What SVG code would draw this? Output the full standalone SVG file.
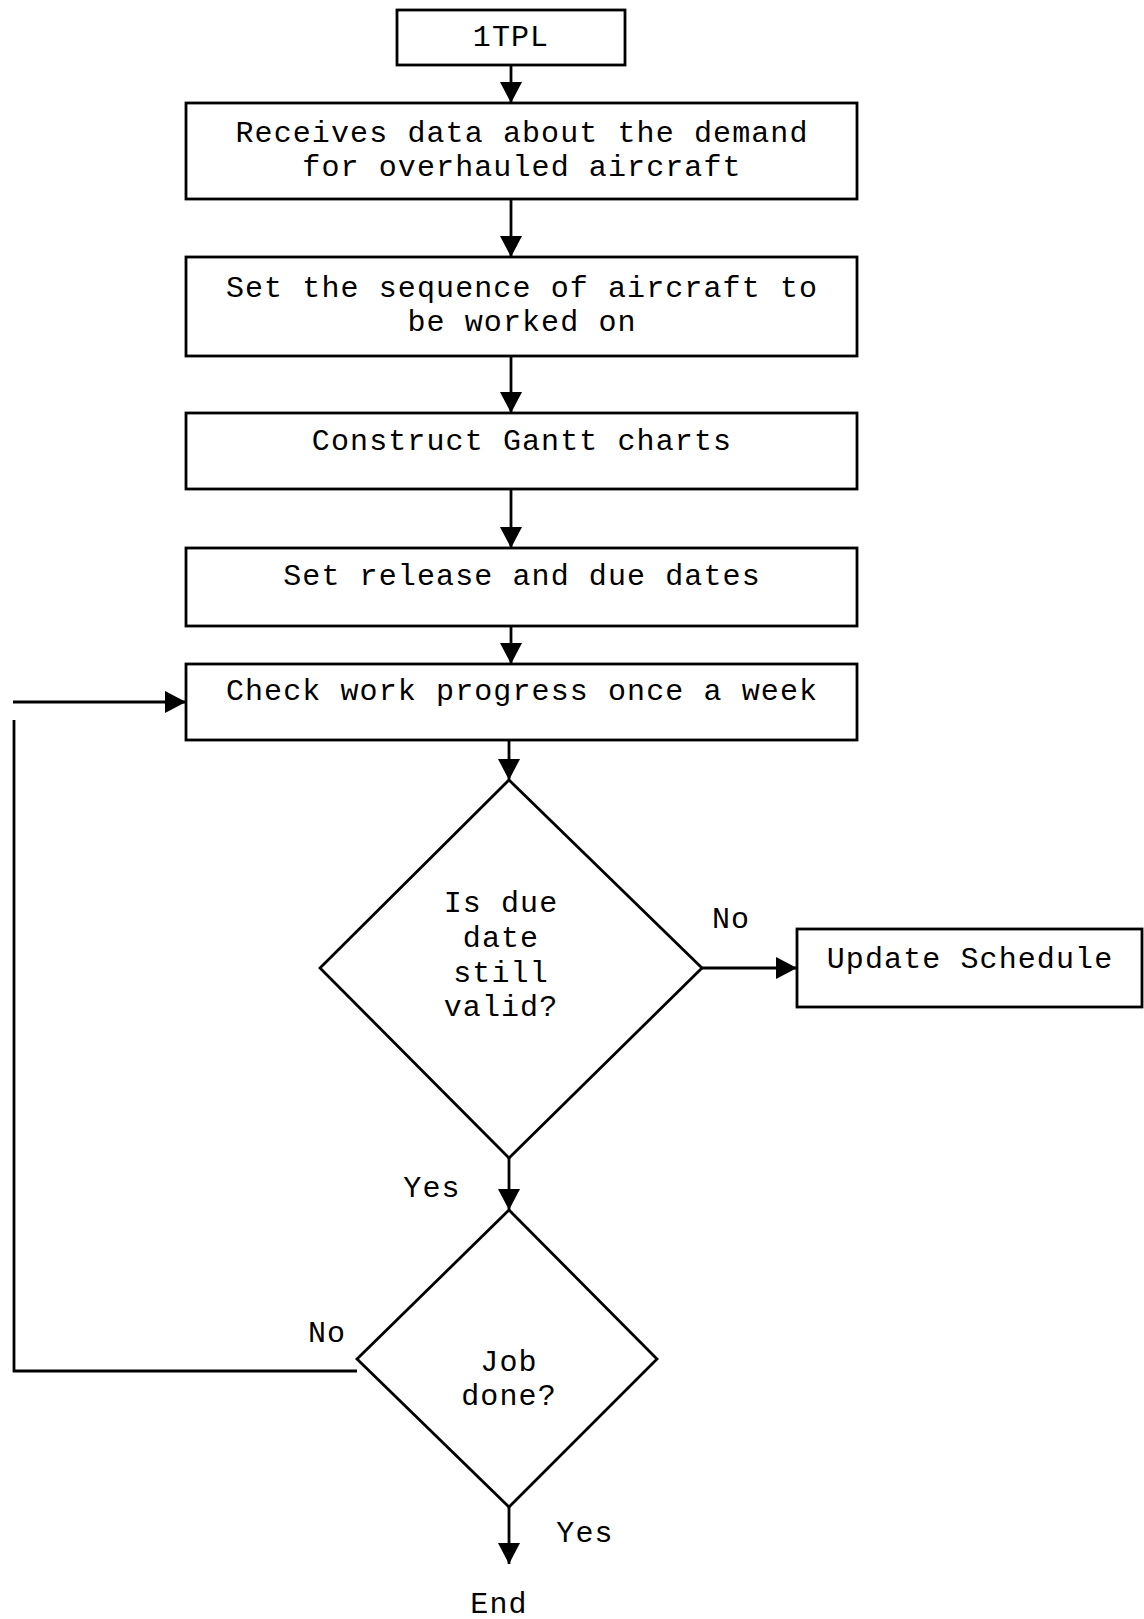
<svg xmlns="http://www.w3.org/2000/svg" width="1144" height="1619" viewBox="0 0 1144 1619">
<style>
  .box{fill:#fff;stroke:#000;stroke-width:2.8}
  .dia{fill:#fff;stroke:#000;stroke-width:2.8}
  .t{font-family:"Liberation Mono","Courier New",monospace;font-size:30px;letter-spacing:1.1px;fill:#000;text-anchor:middle}
  .c{fill:none;stroke:#000;stroke-width:2.8}
</style>
<defs>
  <marker id="ah" markerUnits="userSpaceOnUse" markerWidth="22" markerHeight="22" refX="21" refY="11" orient="auto">
    <path d="M0,0 L21,11 L0,22 Z" fill="#000"/>
  </marker>
</defs>
<rect width="1144" height="1619" fill="#fff"/>
<g id="connectors">
  <line class="c" x1="511" y1="65" x2="511" y2="103" marker-end="url(#ah)"/>
  <line class="c" x1="511" y1="199" x2="511" y2="257" marker-end="url(#ah)"/>
  <line class="c" x1="511" y1="356" x2="511" y2="413" marker-end="url(#ah)"/>
  <line class="c" x1="511" y1="489" x2="511" y2="548" marker-end="url(#ah)"/>
  <line class="c" x1="511" y1="626" x2="511" y2="664" marker-end="url(#ah)"/>
  <line class="c" x1="509" y1="740" x2="509" y2="780" marker-end="url(#ah)"/>
  <line class="c" x1="702" y1="968" x2="797" y2="968" marker-end="url(#ah)"/>
  <line class="c" x1="509" y1="1158" x2="509" y2="1210" marker-end="url(#ah)"/>
  <line class="c" x1="509" y1="1507" x2="509" y2="1564" marker-end="url(#ah)"/>
  <polyline class="c" points="14,720 14,1371 357,1371"/>
  <line class="c" x1="13" y1="702" x2="186" y2="702" marker-end="url(#ah)"/>
  <text class="t" x="731" y="928">No</text>
  <text class="t" x="432" y="1197">Yes</text>
  <text class="t" x="327" y="1342">No</text>
  <text class="t" x="585" y="1542">Yes</text>
</g>
<g id="n1"><rect class="box" x="397" y="10" width="228" height="55"/><text class="t" x="511" y="46">1TPL</text></g>
<g id="n2"><rect class="box" x="186" y="103" width="671" height="96"/><text class="t" x="522" y="142">Receives data about the demand</text><text class="t" x="522" y="176">for overhauled aircraft</text></g>
<g id="n3"><rect class="box" x="186" y="257" width="671" height="99"/><text class="t" x="522" y="297">Set the sequence of aircraft to</text><text class="t" x="522" y="331">be worked on</text></g>
<g id="n4"><rect class="box" x="186" y="413" width="671" height="76"/><text class="t" x="522" y="450">Construct Gantt charts</text></g>
<g id="n5"><rect class="box" x="186" y="548" width="671" height="78"/><text class="t" x="522" y="585">Set release and due dates</text></g>
<g id="n6"><rect class="box" x="186" y="664" width="671" height="76"/><text class="t" x="522" y="700">Check work progress once a week</text></g>
<g id="n7"><polygon class="dia" points="509,780 702,968 509,1158 320,968"/><text class="t" x="501" y="912">Is due</text><text class="t" x="501" y="947">date</text><text class="t" x="501" y="982">still</text><text class="t" x="501" y="1016">valid?</text></g>
<g id="n8"><rect class="box" x="797" y="929" width="345" height="78"/><text class="t" x="970" y="968">Update Schedule</text></g>
<g id="n9"><polygon class="dia" points="509,1210 657,1359 509,1507 357,1359"/><text class="t" x="509" y="1371">Job</text><text class="t" x="509" y="1405">done?</text></g>
<g id="n10"><text class="t" x="499" y="1613">End</text></g>
</svg>
